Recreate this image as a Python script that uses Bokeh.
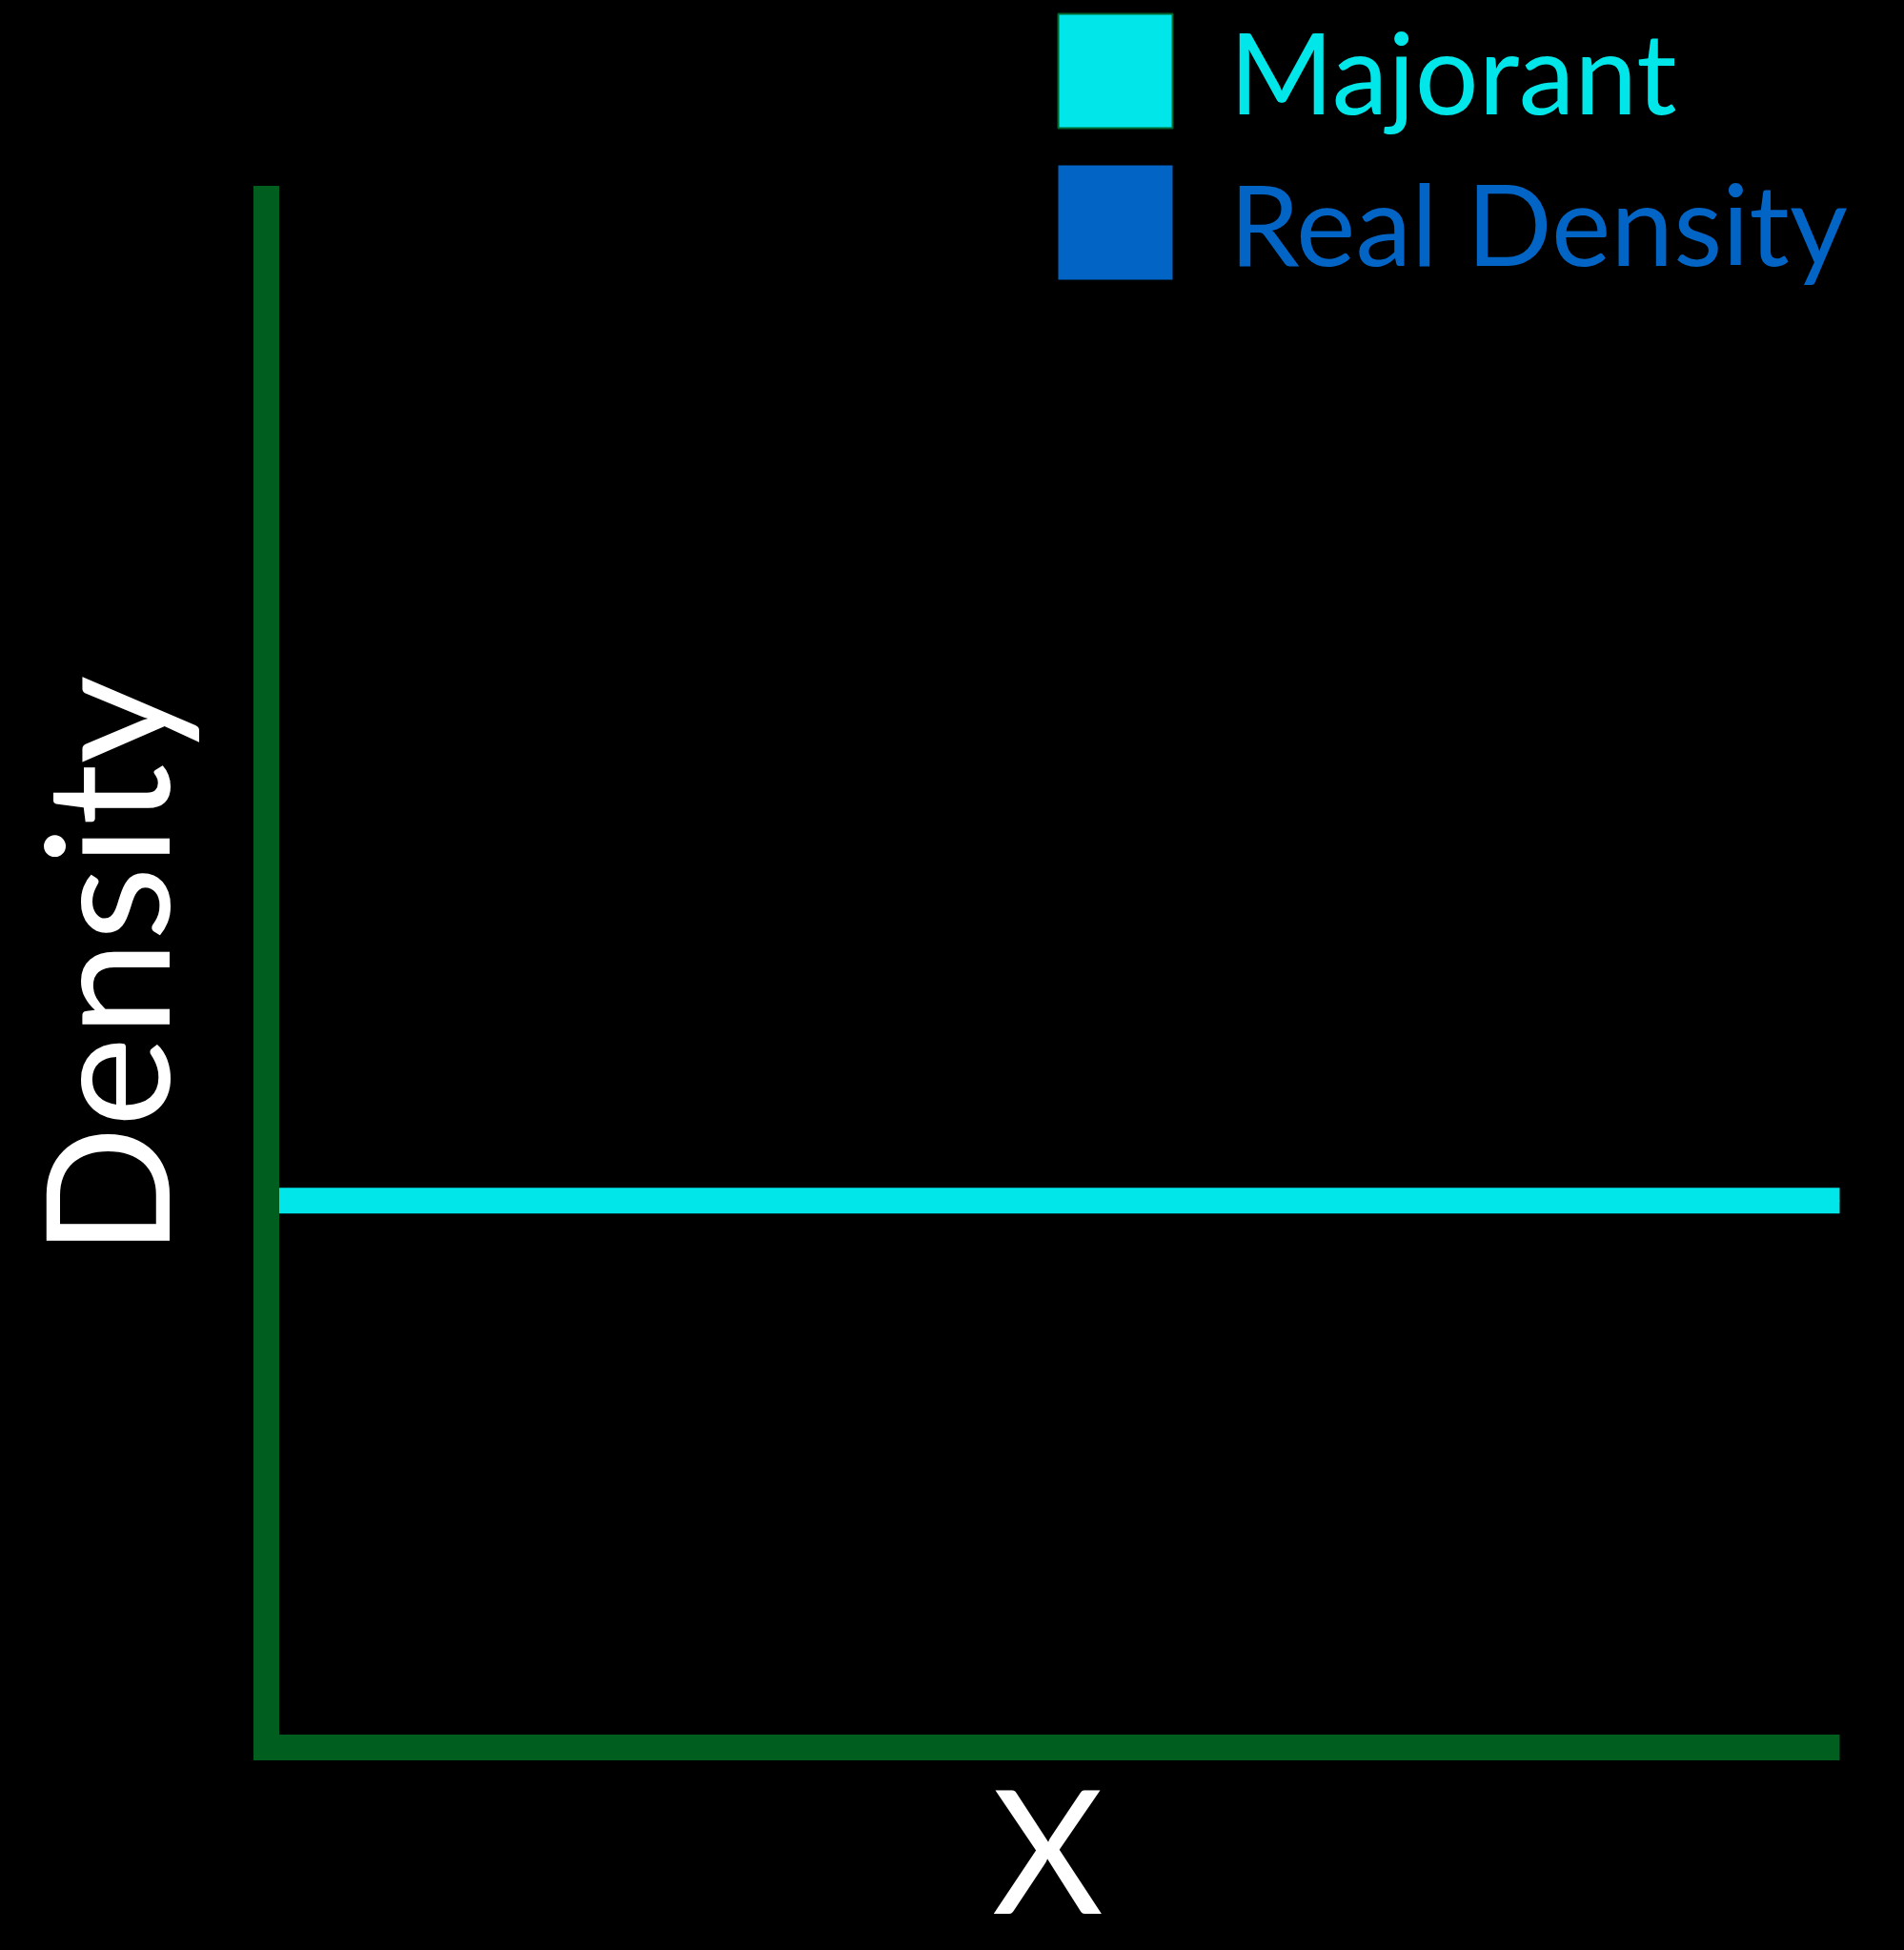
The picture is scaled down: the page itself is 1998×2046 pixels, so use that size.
from bokeh.plotting import figure
from bokeh.models import (Range1d, FixedTicker, Legend, LegendItem, Label,
                          LinearAxis, GlobalInlineStyleSheet)
from bokeh.embed import file_html
from bokeh.resources import INLINE
import math

# ---- data ----
x_vals = [0.0, 1.0]
majorant = [0.353, 0.353]
real_density = [0.0, 0.0]
series_names = ["Majorant", "Real Density"]
x_label = "X"
y_label = "Density"

# ---- colours / fonts ----
BG = "#000000"
AXIS_GREEN = "#005E1E"
CYAN = "#00E6E9"
BLUE = "#0264C4"
SWATCH_EDGE = "#00662E"
FONT = "Lato"

W, H = 1998, 2046
# pixel geometry of the data rectangle (x: 0..1, y: 0..1)
X0_PX, X1_PX = 278.5, 1930.0
Y0_PX, Y1_PX = 1833.0, 207.5


def fx(px):
    return (px - X0_PX) / (X1_PX - X0_PX)


def fy(py):
    return (Y0_PX - py) / (Y0_PX - Y1_PX)


p = figure(width=W, height=H, output_backend="svg", toolbar_location=None,
           x_range=Range1d(fx(0), fx(W)), y_range=Range1d(fy(H), fy(0)),
           x_axis_location=None, y_axis_location=None,
           min_border=0)
p.stylesheets = [GlobalInlineStyleSheet(css="html, body { background-color: #000; }")]
p.background_fill_color = BG
p.border_fill_color = BG
p.outline_line_color = None
p.grid.visible = False

xaxis = LinearAxis(fixed_location=0, bounds=(0, 1))
yaxis = LinearAxis(fixed_location=0, bounds=(0, 1))
for ax in (xaxis, yaxis):
    ax.ticker = FixedTicker(ticks=[])
    ax.major_tick_line_color = None
    ax.minor_tick_line_color = None
    ax.major_tick_out = 0
    ax.minor_tick_out = 0
    ax.major_label_text_font_size = "0px"
    ax.axis_line_color = AXIS_GREEN
    ax.axis_line_width = 27
xaxis.axis_line_cap = "butt"
yaxis.axis_line_cap = "square"
p.add_layout(xaxis, "below")
p.add_layout(yaxis, "left")

# real density (flat at zero in this frame, lies under the x axis)
real = p.varea(x=x_vals, y1=[0.0] * len(x_vals), y2=real_density, fill_color=BLUE)

# majorant: area outline (gives the legend swatch) + thick line
maj_area = p.patch(x=x_vals, y=majorant, fill_color=CYAN,
                   line_color=SWATCH_EDGE, line_width=2)
maj = p.line(x_vals, majorant, line_color=CYAN, line_width=27, line_cap="butt")

common = dict(padding=0, margin=0, spacing=0, glyph_width=150, glyph_height=150,
              label_standoff=45, label_text_font=FONT, label_text_font_size="118px",
              border_line_color=None, background_fill_alpha=0)
leg1 = Legend(items=[LegendItem(label=series_names[0], renderers=[maj_area])],
              location=(1095, 1897), label_text_color=CYAN, **common)
leg2 = Legend(items=[LegendItem(label=series_names[1], renderers=[real])],
              location=(1095, 1738), label_text_color=BLUE, **common)
p.add_layout(leg1)
p.add_layout(leg2)

# axis titles
p.add_layout(Label(x=fx(107), y=fy(1013), text=y_label,
                   angle=math.pi / 2, text_align="center", text_baseline="alphabetic",
                   text_font=FONT, text_font_size="180px", text_color="white"))
p.add_layout(Label(x=fx(1099), y=fy(1937), text=x_label,
                   text_align="center", text_baseline="alphabetic",
                   text_font=FONT, text_font_size="180px", text_color="white"))

open("out.html", "w").write(file_html(p, INLINE))
